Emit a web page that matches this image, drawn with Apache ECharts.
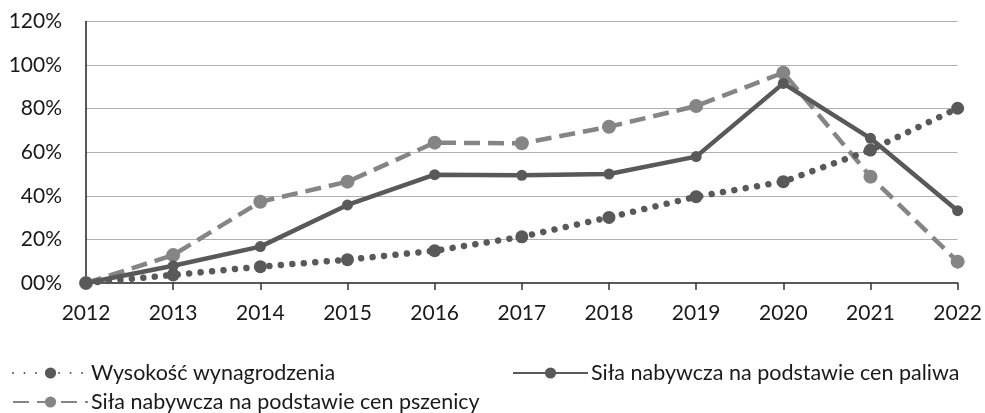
<!DOCTYPE html>
<html><head><meta charset="utf-8">
<script src="https://cdn.jsdelivr.net/npm/echarts@6/dist/echarts.min.js"></script>
<style>html,body{margin:0;padding:0;background:#fff}#c{width:985px;height:413px}</style>
</head><body><div id="c"></div>
<script>
const years = ['2012','2013','2014','2015','2016','2017','2018','2019','2020','2021','2022'];
const yTicks = ['00%','20%','40%','60%','80%','100%','120%'];
const wynagrodzenie = [0, 3.7, 7.5, 10.7, 14.8, 21.2, 30.1, 39.6, 46.5, 61, 80.2];
const paliwo = [0, 7.9, 16.7, 35.8, 49.7, 49.4, 50, 58, 91.6, 66.4, 33.2];
const pszenica = [0, 12.8, 37.3, 46.5, 64.4, 64.1, 71.7, 81.2, 96.5, 48.8, 9.8];
const names = ['Wysokość wynagrodzenia','Siła nabywcza na podstawie cen paliwa','Siła nabywcza na podstawie cen pszenicy'];
const font = 'Lato, sans-serif';
const dark = '#595959', light = '#858585';
const chart = echarts.init(document.getElementById('c'));
const legendCommon = {orient:'horizontal', itemWidth:75, itemHeight:14, itemGap:0,
  textStyle:{fontFamily:font, fontSize:21.5, color:'#1a1a1a', padding:[0,0,0,-2]}};
chart.setOption({
  animation:false,
  grid:{left:86, right:26, top:21.5, bottom:130, containLabel:false},
  legend:[
    Object.assign({data:[names[0]], left:7, top:357}, legendCommon),
    Object.assign({data:[names[1]], left:507, top:357}, legendCommon),
    Object.assign({data:[names[2]], left:7, top:386}, legendCommon)
  ],
  xAxis:{type:'category', data:years, boundaryGap:false,
    axisLine:{lineStyle:{color:dark, width:2}},
    axisTick:{show:true, length:7, lineStyle:{color:'#333', width:1.5}, alignWithLabel:true},
    axisLabel:{fontFamily:font, fontSize:21, color:'#1a1a1a', margin:20},
    splitLine:{show:false}},
  yAxis:{type:'value', min:0, max:120, interval:20,
    axisLine:{show:true, lineStyle:{color:'#222', width:1.5}},
    axisTick:{show:false},
    axisLabel:{fontFamily:font, fontSize:21, color:'#1a1a1a', margin:24,
      formatter:function(v){return yTicks[Math.round(v/20)];}},
    splitLine:{lineStyle:{color:'#b0b0b0', width:1.2}}},
  series:[
    {name:names[0], type:'line', data:wynagrodzenie, symbol:'circle', symbolSize:13, z:3,
      itemStyle:{color:dark}, lineStyle:{color:dark, width:6.5, type:[0.01,11.5], cap:'round'}},
    {name:names[1], type:'line', data:paliwo, symbol:'circle', symbolSize:11, z:4,
      itemStyle:{color:dark}, lineStyle:{color:dark, width:4.5}},
    {name:names[2], type:'line', data:pszenica, symbol:'circle', symbolSize:14, z:2,
      itemStyle:{color:light}, lineStyle:{color:light, width:4.5, type:[16,8]}}
  ]
});
</script></body></html>
